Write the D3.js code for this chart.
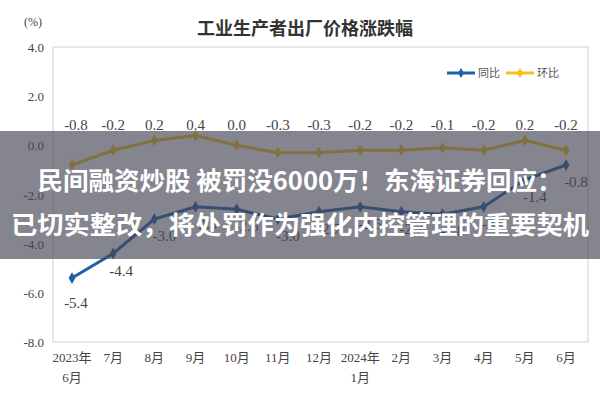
<!DOCTYPE html>
<html><head><meta charset="utf-8">
<script src="https://cdn.jsdelivr.net/npm/d3@7"></script>
<style>body{margin:0;background:#fff}</style>
</head><body><svg id="c" width="600" height="400"></svg>
<script>
const months = ['2023年|6月','7月','8月','9月','10月','11月','12月','2024年|1月','2月','3月','4月','5月','6月'];
const yoy = [-5.4,-4.4,-3.0,-2.5,-2.6,-3.0,-2.7,-2.5,-2.7,-2.8,-2.5,-1.4,-0.8];
const mom = [-0.8,-0.2,0.2,0.4,0.0,-0.3,-0.3,-0.2,-0.2,-0.1,-0.2,0.2,-0.2];
const yTicks = [4,2,0,-2,-4,-6,-8];
const banner = ['民间融资炒股 被罚没6000万！东海证券回应：', '已切实整改，将处罚作为强化内控管理的重要契机'];

const svg = d3.select('#c');
const serif = '"Liberation Serif", "Noto Sans CJK SC", serif';
const L = 53, R = 588, T = 47, B = 342;
const x = d3.scalePoint().domain(d3.range(months.length)).range([72, 566]);
const y = d3.scaleLinear().domain([-8, 4]).range([B, T]);

svg.append('rect').attr('x', L).attr('y', T).attr('width', R - L).attr('height', B - T)
  .attr('fill', '#fff').attr('stroke', '#d0d0d0');

yTicks.forEach(t => {
  svg.append('text').attr('x', 44).attr('y', y(t) + 5).attr('text-anchor', 'end')
    .attr('font-family', serif).attr('font-size', 13).attr('fill', '#444').text(t.toFixed(1));
});
svg.append('text').attr('x', 24).attr('y', 26).attr('font-family', serif).attr('font-size', 12).attr('fill', '#444').text('(%)');
svg.append('text').attr('x', 305).attr('y', 35).attr('text-anchor', 'middle').attr('font-weight', 'bold')
  .attr('font-family', '"Noto Sans CJK SC"').attr('font-size', 18).attr('fill', '#333').text('工业生产者出厂价格涨跌幅');

months.forEach((m, i) => {
  m.split('|').forEach((s, j) => {
    svg.append('text').attr('x', x(i)).attr('y', 362 + j * 20).attr('text-anchor', 'middle')
      .attr('font-family', serif).attr('font-size', 13).attr('fill', '#444').text(s);
  });
});

const line = d3.line().x((d, i) => x(i)).y(d => y(d));
function series(data, color) {
  svg.append('path').datum(data).attr('d', line).attr('fill', 'none').attr('stroke', color).attr('stroke-width', 3);
  svg.selectAll(null).data(data).enter().append('path')
    .attr('d', d3.symbol(d3.symbolDiamond, 40))
    .attr('transform', (d, i) => `translate(${x(i)},${y(d)})`).attr('fill', color);
}
series(mom, '#f2c318');
series(yoy, '#1f5fa8');

const lbl = (v, xx, yy) => svg.append('text').attr('x', xx).attr('y', yy).attr('text-anchor', 'middle')
  .attr('font-family', serif).attr('font-size', 15).attr('fill', '#444').text(v.toFixed(1));
mom.forEach((v, i) => lbl(v, x(i) + (i === 0 ? 4 : 0), 130));
yoy.forEach((v, i) => lbl(v, x(i) + (i === 0 ? 4 : i === 1 ? 8 : 10), y(v) + (i === 0 ? 30 : 22)));

// legend
[['同比', '#1f5fa8', 447], ['环比', '#f2c318', 506]].forEach(([t, c, lx]) => {
  svg.append('line').attr('x1', lx).attr('x2', lx + 28).attr('y1', 73).attr('y2', 73).attr('stroke', c).attr('stroke-width', 3);
  svg.append('path').attr('d', d3.symbol(d3.symbolDiamond, 30)).attr('transform', `translate(${lx + 14},73)`).attr('fill', c);
  svg.append('text').attr('x', lx + 31).attr('y', 77).attr('font-family', '"Noto Sans CJK SC"').attr('font-size', 11).attr('fill', '#555').text(t);
});

// overlay banner
svg.append('rect').attr('x', 0).attr('y', 131).attr('width', 600).attr('height', 128).attr('fill', 'rgba(70,70,85,0.66)');
banner.forEach((t, i) => {
  svg.append('text').attr('x', 300).attr('y', 190 + i * 44).attr('text-anchor', 'middle')
    .attr('font-family', '"Noto Sans CJK SC"').attr('font-weight', 'bold').attr('font-size', 25)
    .attr('textLength', i === 0 ? 525 : 578).attr('lengthAdjust', 'spacingAndGlyphs')
    .attr('fill', '#fff').text(t);
});
</script></body></html>
